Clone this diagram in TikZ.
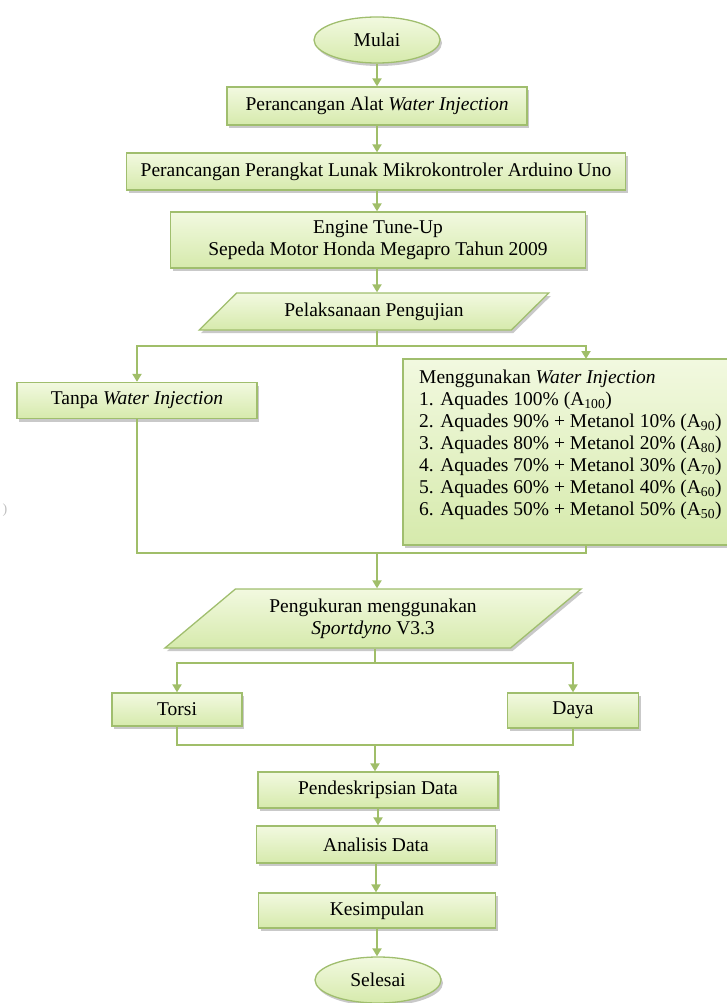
\documentclass[tikz,border=0pt]{standalone}
\usepackage{fontspec}
\setmainfont{Liberation Serif}
\usetikzlibrary{shapes.geometric,shadows,arrows.meta,calc}
\definecolor{bordc}{RGB}{160,190,110}
\definecolor{arrc}{RGB}{160,190,105}
\definecolor{filltop}{RGB}{242,249,224}
\definecolor{fillbot}{RGB}{214,234,172}
\tikzset{
  shd/.style={drop shadow={shadow xshift=2pt,shadow yshift=-3pt,opacity=0.3,fill=black!70}},
  fillg/.style={draw=bordc,line width=1.3pt,top color=filltop,bottom color=fillbot,shd},
  boxn/.style={fillg,rectangle,inner sep=0pt,align=center},
  ell/.style={fillg,ellipse,inner sep=0pt,minimum width=126pt,minimum height=46pt},
  para/.style={fillg,trapezium,trapezium stretches=true,inner sep=0pt,align=center},
  ln/.style={draw=arrc,line width=2pt},
  arr/.style={ln,-{Triangle[length=8pt,width=9pt]}},
}
\begin{document}
\begin{tikzpicture}[x=1pt,y=-1pt,font=\fontsize{19.5}{22}\selectfont]
\useasboundingbox (0,0) rectangle (726,1003);
% nodes
\node[ell] (mulai) at (377,40) {Mulai};
\node[boxn,minimum width=300pt,minimum height=38pt] (b1) at (377,106) {Perancangan Alat \textit{Water Injection}};
\node[boxn,minimum width=499pt,minimum height=37pt] (b2) at (376,171.5) {Perancangan Perangkat Lunak Mikrokontroler Arduino Uno};
\node[boxn,minimum width=415pt,minimum height=56pt] (b3) at (378,240) {Engine Tune-Up\\Sepeda Motor Honda Megapro Tahun 2009};
\node[para,minimum width=350pt,minimum height=37pt,trapezium left angle=36,trapezium right angle=144] (p1) at (374,311.5) {Pelaksanaan Pengujian};
\node[boxn,minimum width=240pt,minimum height=36pt] (tanpa) at (137,400.5) {Tanpa \textit{Water Injection}};
\node[boxn,minimum width=337pt,minimum height=186pt] (mg) at (571.5,452) {};
\node[align=left,anchor=west,inner sep=0pt,font=\fontsize{19.5}{22}\selectfont] (mgt) at (419,445) {Menggunakan \textit{Water Injection}\\
1. Aquades 100\% (A\textsubscript{100})\\
2. Aquades 90\% + Metanol 10\% (A\textsubscript{90})\\
3. Aquades 80\% + Metanol 20\% (A\textsubscript{80})\\
4. Aquades 70\% + Metanol 30\% (A\textsubscript{70})\\
5. Aquades 60\% + Metanol 40\% (A\textsubscript{60})\\
6. Aquades 50\% + Metanol 50\% (A\textsubscript{50})};
\node[para,minimum width=418pt,minimum height=59pt,trapezium left angle=36.8,trapezium right angle=143.2] (p2) at (373,618.5) {Pengukuran menggunakan\\\textit{Sportdyno} V3.3};
\node[boxn,minimum width=130pt,minimum height=33pt] (torsi) at (177,709.5) {Torsi};
\node[boxn,minimum width=131pt,minimum height=35pt] (daya) at (573,710.5) {Daya};
\node[boxn,minimum width=240pt,minimum height=36pt] (pd) at (378,790) {Pendeskripsian Data};
\node[boxn,minimum width=239pt,minimum height=37pt] (an) at (376,844.5) {Analisis Data};
\node[boxn,minimum width=237pt,minimum height=35pt] (ks) at (377,910.5) {Kesimpulan};
\node[ell] (sls) at (378,980) {Selesai};
\node[text=black!25,inner sep=0pt,font=\fontsize{14}{16}\selectfont] (art) at (5,510) {)};
% coordinates
\coordinate (s1) at (377,346);
\coordinate (mgin) at (586,359);
\coordinate (mgbot) at (586,545);
\coordinate (j1) at (377,553);
\coordinate (s2) at (375,663);
\coordinate (j2) at (375,745);
% connectors
\draw[arr] (mulai.south) -- (mulai.south |- b1.north);
\draw[arr] (b1) -- (b1 |- b2.north);
\draw[arr] (b1 |- b2.south) -- (b1 |- b3.north);
\draw[arr] (b1 |- b3.south) -- (b1 |- p1.north);
\draw[ln] (b1 |- p1.south) -- (s1);
\draw[arr] (s1) -| (tanpa.north);
\draw[arr] (s1) -| (mgin);
\draw[ln] (tanpa.south) |- (mgbot |- j1) -- (mgbot);
\draw[arr] (j1) -- (j1 |- p2.north);
\draw[ln] (s2 |- p2.south) -- (s2);
\draw[arr] (s2) -| (torsi.north);
\draw[arr] (s2) -| (daya.north);
\draw[ln] (torsi.south) |- (daya.south |- j2) -- (daya.south);
\draw[arr] (j2) -- (j2 |- pd.north);
\draw[arr] (pd.south) -- (pd.south |- an.north);
\draw[arr] (an.south) -- (an.south |- ks.north);
\draw[arr] (ks.south) -- (ks.south |- sls.north);
\end{tikzpicture}
\end{document}
